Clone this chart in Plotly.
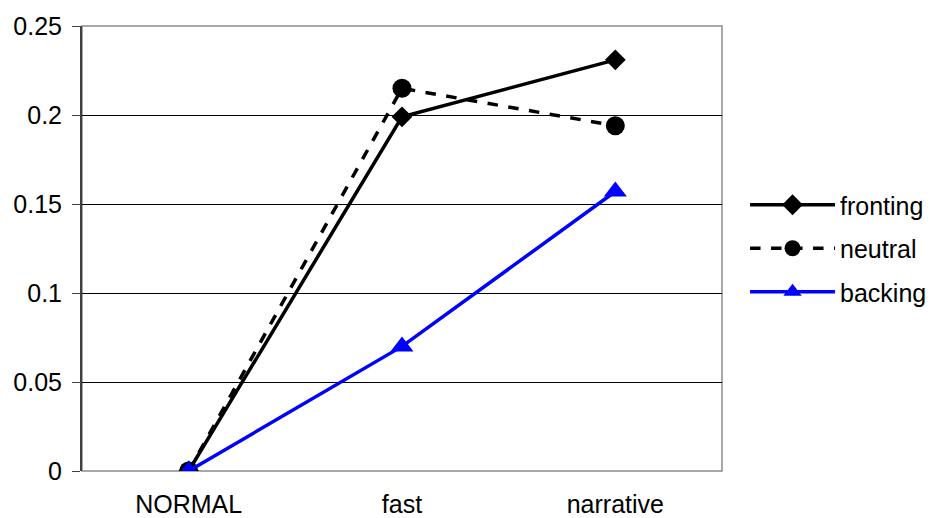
import plotly.graph_objects as go

categories = ["NORMAL", "fast", "narrative"]
fronting = [0.0, 0.199, 0.231]
neutral = [0.0, 0.215, 0.194]
backing = [0.0, 0.070, 0.157]
y_ticks = [0, 0.05, 0.1, 0.15, 0.2, 0.25]
y_tick_labels = ["0", "0.05", "0.1", "0.15", "0.2", "0.25"]

fig = go.Figure()
fig.add_trace(go.Scatter(x=categories, y=fronting, name="fronting", mode="lines+markers",
                         legendgroup="g1",
                         line=dict(color="black", width=3.5),
                         marker=dict(symbol="diamond", size=16, color="black")))
fig.add_trace(go.Scatter(x=categories, y=neutral, name="neutral", mode="lines+markers",
                         legendgroup="g2",
                         line=dict(color="black", width=3.5, dash="dash"),
                         marker=dict(symbol="circle", size=19, color="black")))
fig.add_trace(go.Scatter(x=categories, y=backing, name="backing", mode="lines+markers",
                         legendgroup="g3",
                         line=dict(color="#0000ff", width=3.5),
                         marker=dict(symbol="triangle-up", size=20, color="#0000ff")))

fig.add_shape(type="rect", xref="x domain", yref="y domain", x0=0, x1=1, y0=0, y1=1,
              line=dict(color="#8c8c8c", width=1.5), layer="below")

# page body has an 8px margin, so the figure is sized/offset to compensate
fig.update_layout(
    width=936, height=510,
    margin=dict(l=74, r=222, t=18, b=47, autoexpand=False),
    paper_bgcolor="white", plot_bgcolor="white",
    font=dict(family="Liberation Sans, Arial, sans-serif", size=25, color="black"),
    showlegend=True,
    legend=dict(x=1.036, y=0.5, xanchor="left", yanchor="middle",
                font=dict(size=25), itemwidth=85, tracegroupgap=8,
                bgcolor="rgba(0,0,0,0)"),
    xaxis=dict(type="category", range=[-0.5, 2.5], showgrid=False, zeroline=False,
               showline=False, ticks="", ticklabelstandoff=16, automargin=False),
    yaxis=dict(range=[0, 0.25], tickvals=y_ticks, ticktext=y_tick_labels,
               showgrid=True, gridcolor="black", gridwidth=1, zeroline=False,
               showline=True, linecolor="#404040", linewidth=2,
               ticks="outside", ticklen=8, tickcolor="#404040", ticklabelstandoff=5,
               automargin=False),
)

fig.write_html("out.html")
